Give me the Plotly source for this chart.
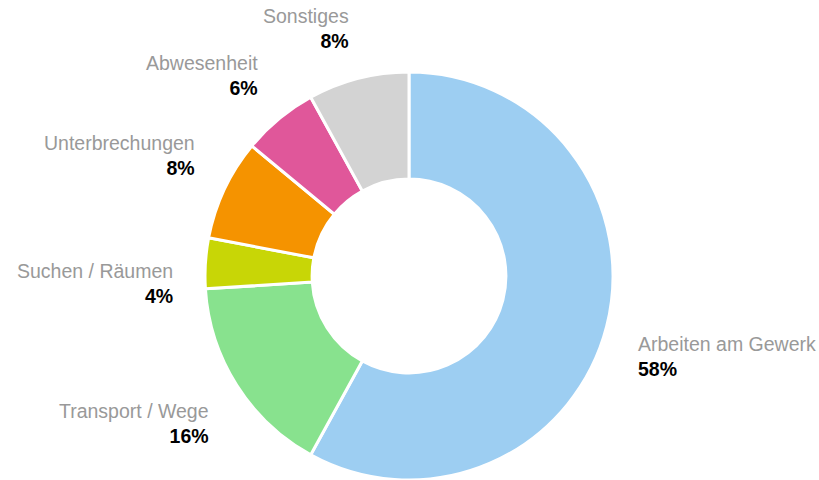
import math
import plotly.graph_objects as go

# Share of working time by activity
categories = ["Arbeiten am Gewerk", "Transport / Wege", "Suchen / Räumen",
              "Unterbrechungen", "Abwesenheit", "Sonstiges"]
values = [58, 16, 4, 8, 6, 8]
colors = ["#9DCEF2", "#88E28E", "#C8D606", "#F59300", "#E0579A", "#D3D3D3"]

W, H = 819, 480
CX, CY = 409, 276          # pie centre in pixels (from top-left)
R = 204                    # outer radius in pixels
LABEL_R = 234              # distance of label anchor from centre
PAD_ABOVE = 5              # gap between anchor and labels above the centre
PAD_BELOW = 3              # gap between anchor and labels below the centre

fig = go.Figure(go.Pie(
    labels=categories,
    values=values,
    sort=False,
    direction="clockwise",
    rotation=0,
    hole=0.475,
    marker=dict(colors=colors, line=dict(color="#FFFFFF", width=3)),
    textinfo="none",
    hoverinfo="label+percent",
    showlegend=False,
    domain=dict(x=[(CX - R) / W, (CX + R) / W],
                y=[max(0, (H - CY - R) / H), (H - CY + R) / H]),
))

# Outside labels placed along each slice's mid-angle
total = sum(values)
cum = 0
for name, v in zip(categories, values):
    mid = (cum + v / 2) / total * 2 * math.pi
    cum += v
    s, c = math.sin(mid), math.cos(mid)
    px = CX + LABEL_R * s
    py = CY - LABEL_R * c
    right_side = s > 0
    above = c > 0.3
    fig.add_annotation(
        x=px / W, y=1 - py / H, xref="paper", yref="paper",
        xanchor="left" if right_side else "right",
        yanchor="bottom" if above else "top",
        yshift=-PAD_ABOVE if above else PAD_BELOW,
        align="left" if right_side else "right",
        showarrow=False,
        text=f"<span style='color:#999999'>{name}</span><br>"
             f"<b>{round(v / total * 100)}%</b>",
        font=dict(family="Liberation Sans, Arial, sans-serif", size=19.5, color="#000000"),
    )

fig.update_layout(
    width=W, height=H,
    margin=dict(l=0, r=0, t=0, b=0),
    paper_bgcolor="#FFFFFF",
    plot_bgcolor="#FFFFFF",
)

fig.write_html("out.html")
